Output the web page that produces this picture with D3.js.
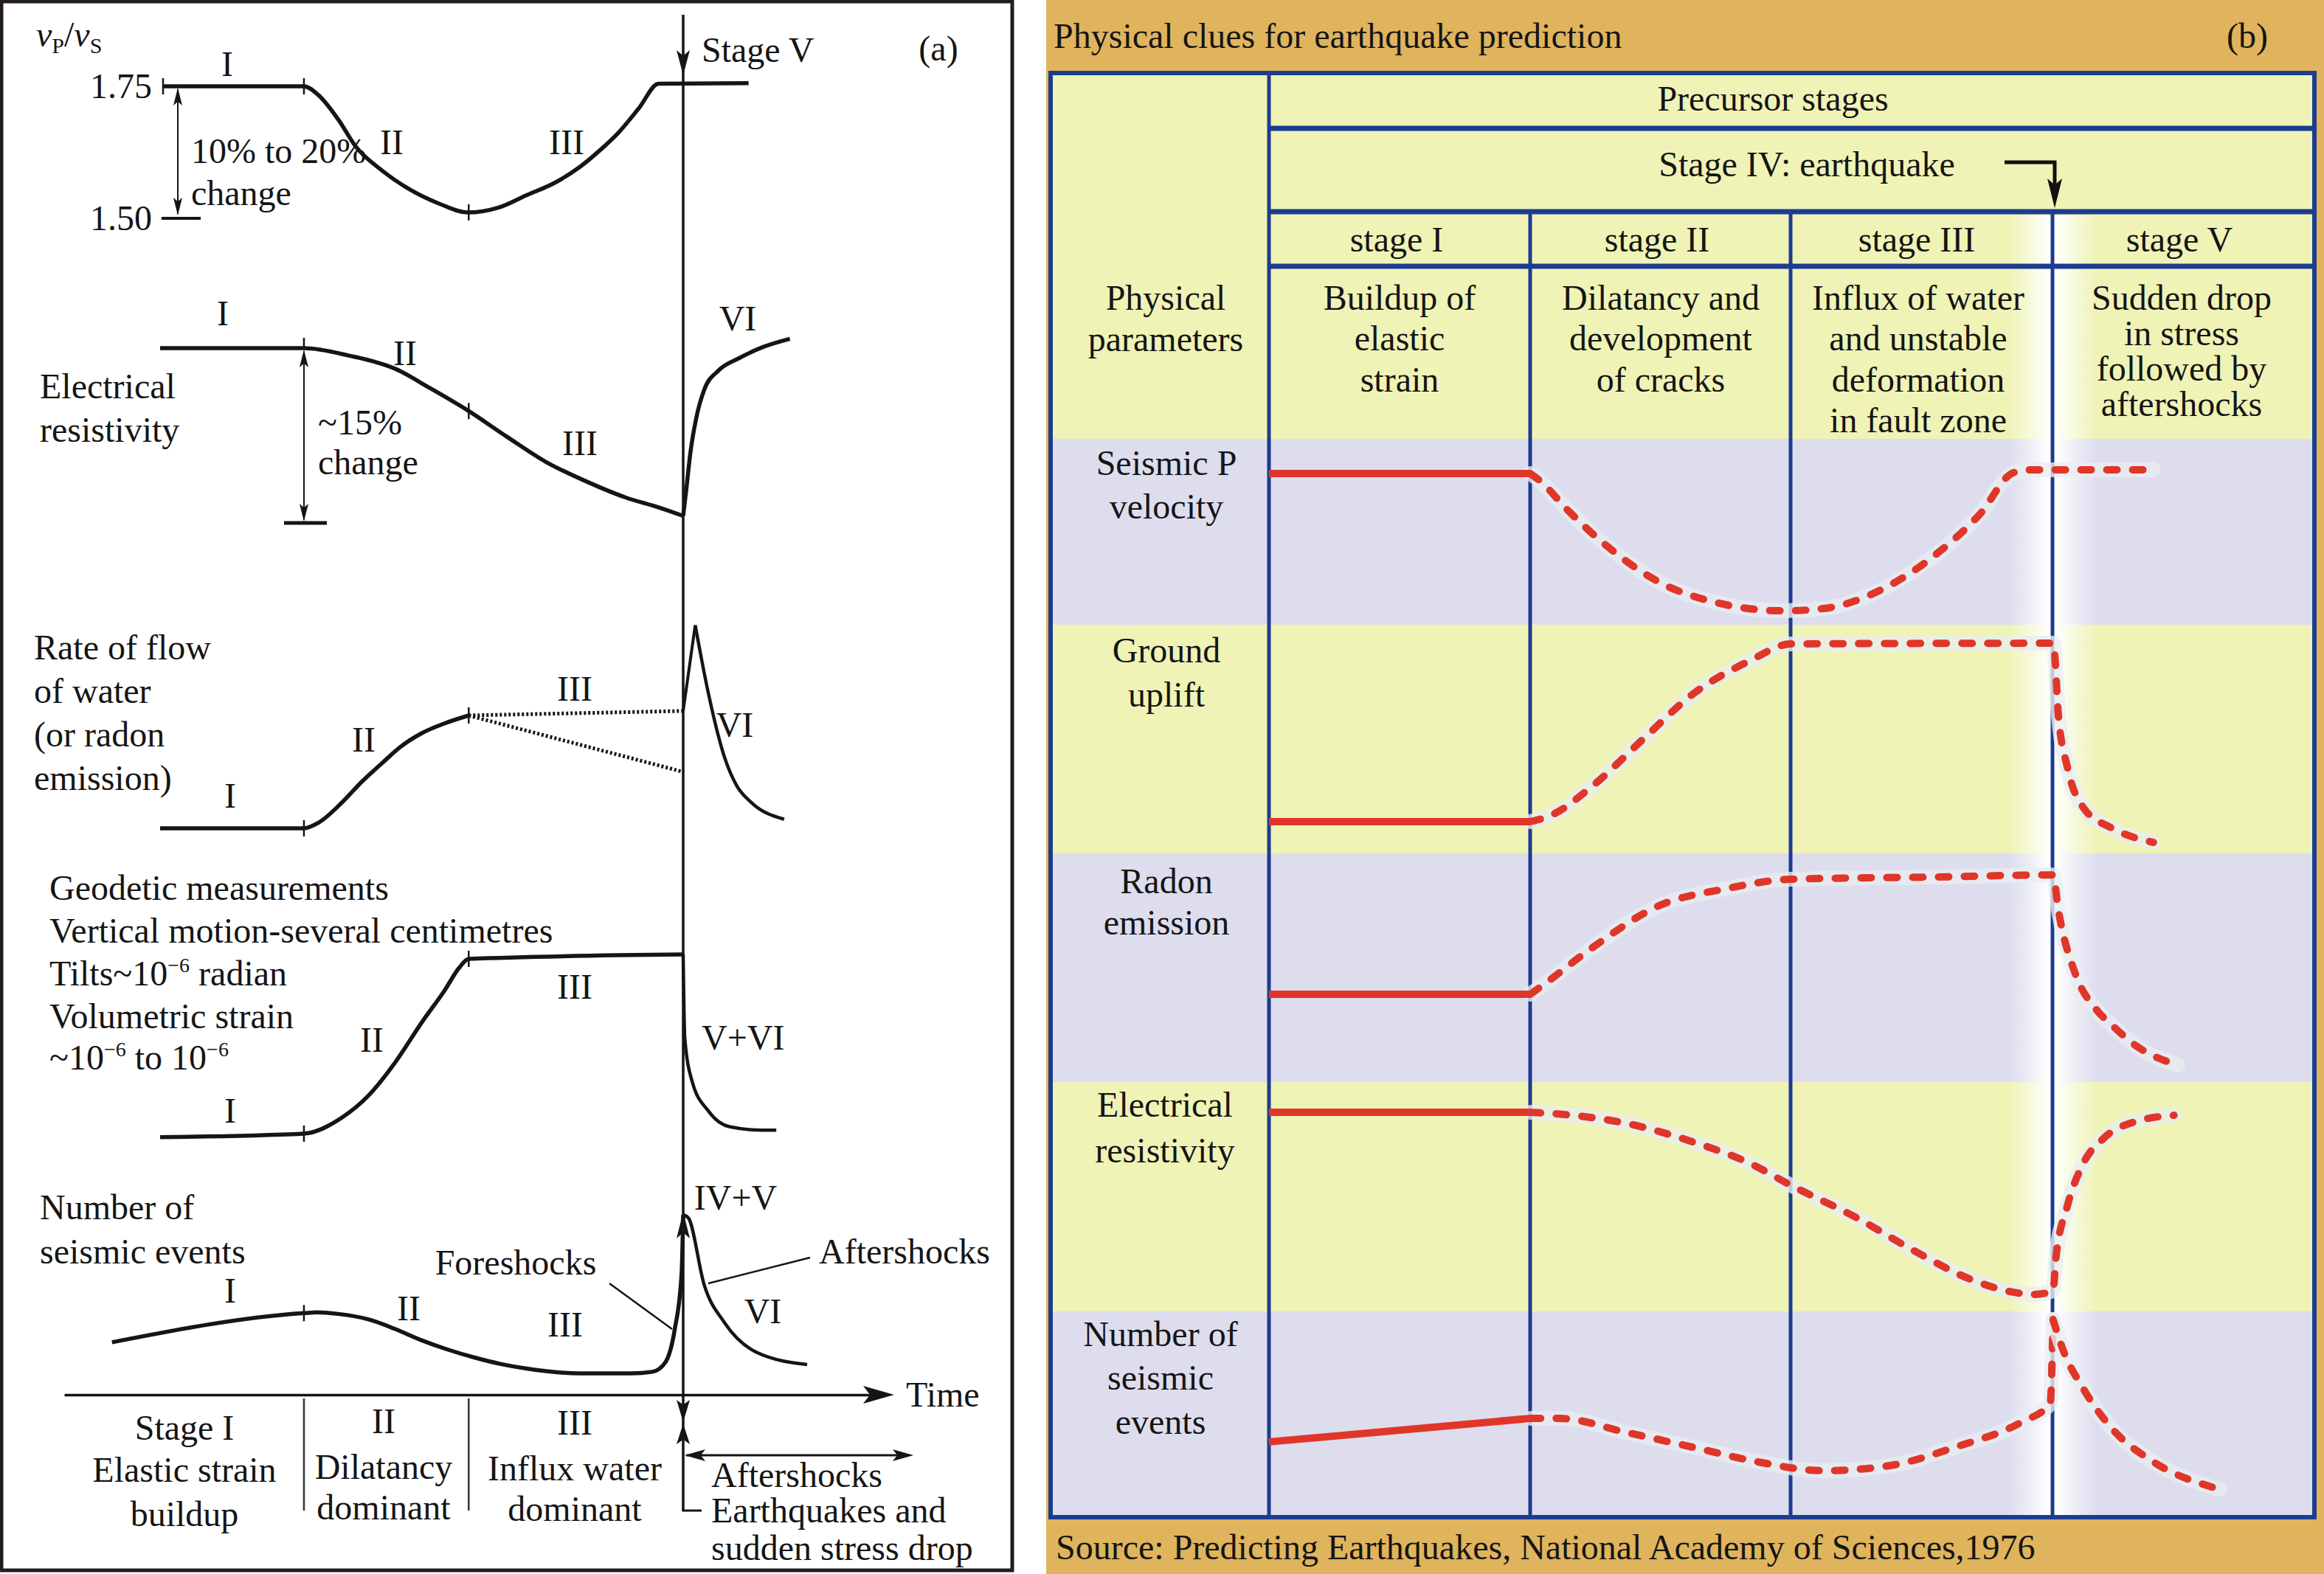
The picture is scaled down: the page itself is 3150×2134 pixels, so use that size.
<!DOCTYPE html>
<html><head><meta charset="utf-8">
<script src="https://cdn.jsdelivr.net/npm/d3@7"></script>
<style>
html,body{margin:0;padding:0;background:#fff;}
svg{display:block;}
text{font-family:"Liberation Serif","Times New Roman",serif;}
</style></head><body>
<svg id="c" width="3150" height="2134"></svg>
<script>
// ================= DATA =================
// Panel (a): time as % of the precursor period (0 = onset, 100 = earthquake)
const stageCutsA = [27.5, 59];
const vpvsTicks = [1.50, 1.75];
const vpvsA = [[0.6,1.75],[27.5,1.75],[30.3,1.733],[34.0,1.688],[37.4,1.636],[42.5,1.590],[47.5,1.556],[53.3,1.528],[58.8,1.511],[64.6,1.520],[70.1,1.544],[75.4,1.567],[80.2,1.597],[84.1,1.629],[87.7,1.663],[91.5,1.708],[95.3,1.755],[112.5,1.756]];
// electrical resistivity, % change
const resistA = [[0,0],[27.5,0],[36.1,-0.64],[45.0,-1.78],[51.6,-3.43],[58.8,-5.34],[66.3,-7.6],[73.9,-9.8],[81.3,-11.4],[88.9,-12.8],[95.5,-13.7],[100,-14.4]];
const resistAfterA = [[100,-14.4],[100.6,-12.1],[101.4,-8.9],[102.5,-6.0],[104.0,-3.6],[106.8,-1.9],[110.5,-0.9],[115.3,0.1],[120.4,0.8]];
// rate of flow of water (relative)
const waterA = [[0,0],[27.5,0],[30.3,0.05],[34.8,0.23],[38.5,0.41],[42.5,0.58],[45.9,0.72],[49.9,0.84],[54.4,0.93],[59,1.0]];
const waterHighA = [[59,1.0],[100,1.04]];
const waterLowA = [[59,1.0],[100,0.50]];
const waterRiseA = [[100,1.04],[102.3,1.80]];
const waterDecayA = [[102.3,1.80],[104.8,1.20],[107.9,0.63],[110.2,0.38],[113.0,0.23],[119.3,0.08]];
// geodetic (relative)
const geodeticA = [[0,-0.02],[27.5,0],[34.8,0.093],[39.9,0.22],[45.0,0.41],[50.1,0.64],[54.4,0.82],[57.2,0.95],[59,1.0],[100,1.025]];
const geodeticAfterA = [[100,1.025],[100.3,0.55],[101.7,0.30],[104.8,0.13],[108.8,0.04],[115,0.02],[117.8,0.02]];
// number of seismic events (relative)
const seismicA = [[-9.2,0.196],[27.5,0.38],[30,0.385],[34,0.375],[39.9,0.34],[44.9,0.28],[49.9,0.21],[55,0.15],[60.1,0.10],[65,0.06],[70.1,0.03],[80.2,0.0],[90,0.0],[94.1,0.01],[96.6,0.07],[98.4,0.28],[99.7,0.63],[100,1.0]];
const aftershockA = [[100,1.0],[101,0.98],[104,0.56],[107.9,0.32],[114.2,0.13],[123.7,0.056]];

// Panel (b): time in stage units (0..4 = stage I, II, III, V columns); values in % of row height
const stagesB = ["stage I","stage II","stage III","stage V"];
const stageDescB = [["Buildup of","elastic","strain"],["Dilatancy and","development","of cracks"],["Influx of water","and unstable","deformation","in fault zone"],["Sudden drop","in stress","followed by","aftershocks"]];
const paramsB = [["Seismic P","velocity"],["Ground","uplift"],["Radon","emission"],["Electrical","resistivity"],["Number of","seismic","events"]];
const seismicPB = [[0,81.3],[1,81.3],[1.034,77.8],[1.144,61.5],[1.302,41.3],[1.492,23.0],[1.712,11.9],[1.966,7.5],[2.121,8.7],[2.345,19.0],[2.565,39.3],[2.72,59.5],[2.847,81.7],[2.91,83.3],[3.384,83.3]];
const upliftB = [[0,13.9],[1,13.9],[1.082,16.8],[1.24,29.7],[1.429,49.7],[1.619,69.4],[1.839,84.2],[1.997,91.6],[3.0,91.9],[3.006,87.4],[3.02,61.0],[3.054,38.1],[3.116,20.0],[3.226,11.0],[3.384,4.8]];
const radonB = [[0,38.4],[1,38.4],[1.051,42.6],[1.24,59.0],[1.492,77.1],[1.746,84.5],[1.997,88.7],[2.565,89.7],[3.0,90.6],[3.02,75.5],[3.085,47.4],[3.164,31.9],[3.226,24.8],[3.322,15.5],[3.477,7.4]];
const resistB = [[0,86.8],[1,86.8],[1.113,86.0],[1.367,82.0],[1.619,74.0],[1.839,64.6],[1.997,55.0],[2.249,40.8],[2.469,26.4],[2.689,13.8],[2.847,8.4],[2.927,7.4],[3.0,9.0],[3.011,23.3],[3.054,45.7],[3.116,64.6],[3.195,75.6],[3.322,83.0],[3.463,85.5]];
const quakesB = [[0,36.6],[1,48.0],[1.113,48.0],[1.367,41.2],[1.619,34.1],[1.87,26.9],[2.121,22.6],[2.376,25.1],[2.627,34.1],[2.879,46.2],[2.989,55.2],[3.0,96.1]];
const aftershocksB = [[3.0,96.1],[3.037,81.7],[3.116,62.4],[3.226,43.0],[3.384,26.9],[3.636,13.6]];
const seriesB = [seismicPB, upliftB, radonB, resistB, [quakesB, aftershocksB]];

// ================= DRAW =================
const svg = d3.select("#c");
const INK = "#151515";
const FS = 48;

function txt(g, x, y, s, anchor, size, extra) {
  const t = g.append("text").attr("x", x).attr("y", y).attr("dy", "0.33em")
    .attr("text-anchor", anchor || "start").attr("font-size", size || FS).attr("fill", INK).text(s);
  if (extra) extra(t);
  return t;
}
function arrowHead(g, x, y, ang, len, hw, fill) {
  const p = [[0,0],[-len,hw],[-len*0.78,0],[-len,-hw]];
  g.append("path").attr("d", "M" + p.map(q => q.join(",")).join("L") + "Z")
    .attr("transform", `translate(${x},${y}) rotate(${ang})`).attr("fill", fill || INK);
}
function seg(g, x1, y1, x2, y2, w, col) {
  g.append("line").attr("x1", x1).attr("y1", y1).attr("x2", x2).attr("y2", y2)
    .attr("stroke", col || INK).attr("stroke-width", w || 3);
}
function valAt(series, t) {
  for (let i = 0; i < series.length - 1; i++) {
    const a = series[i], b = series[i+1];
    if (t >= a[0] && t <= b[0]) return a[1] + (b[1]-a[1]) * (t-a[0]) / (b[0]-a[0]);
  }
  return series[series.length-1][1];
}

// ---------- Panel (a) ----------
const gA = svg.append("g");
gA.append("rect").attr("x", 2).attr("y", 2).attr("width", 1370).attr("height", 2127)
  .attr("fill", "#fff").attr("stroke", "#221c1c").attr("stroke-width", 5);

const xA = d3.scaleLinear().domain([0, 100]).range([217, 926]);
const yVp = d3.scaleLinear().domain([1.5, 1.75]).range([296, 117]);
const yResA = d3.scaleLinear().domain([-15, 0]).range([709, 472]);
const yWater = d3.scaleLinear().domain([0, 1]).range([1123, 970]);
const yGeo = d3.scaleLinear().domain([0, 1]).range([1537, 1300]);
const ySeis = d3.scaleLinear().domain([0, 1]).range([1862, 1647]);

function curveA(data, ys, opts) {
  opts = opts || {};
  const ln = d3.line().x(d => xA(d[0])).y(d => ys(d[1])).curve(opts.curve || d3.curveMonotoneX);
  const p = gA.append("path").attr("d", ln(data)).attr("fill", "none")
    .attr("stroke", INK).attr("stroke-width", opts.w || 5.5).attr("stroke-linejoin", "round");
  if (opts.dash) p.attr("stroke-dasharray", opts.dash);
  return p;
}
function tickA(series, ys, t, up, down) {
  const x = xA(t), y = ys(valAt(series, t));
  seg(gA, x, y - (up == null ? 11 : up), x, y + (down == null ? 11 : down), 2.5);
}

// earthquake vertical line
const xq = xA(100);
seg(gA, xq, 20, xq, 2048, 3.5);
seg(gA, xq - 1.5, 2048, 951, 2048, 3);
arrowHead(gA, xq, 102, 90, 34, 9);

// vp/vs
curveA(vpvsA, yVp);
stageCutsA.forEach(t => tickA(vpvsA, yVp, t));
seg(gA, 221, yVp(1.75) - 11, 221, yVp(1.75) + 11, 2.5);
seg(gA, 219, yVp(1.5), 272, yVp(1.5), 4);
const axVp = gA.append("g").attr("transform", "translate(206,0)")
  .call(d3.axisLeft(yVp).tickValues(vpvsTicks).tickSize(0).tickPadding(0).tickFormat(d3.format(".2f")));
axVp.select(".domain").remove();
axVp.selectAll("text").attr("font-size", FS).attr("fill", INK).attr("font-family", '"Liberation Serif",serif').attr("dy", "0.33em");
seg(gA, 241, yVp(1.75) + 4, 241, yVp(1.5) - 6, 2);
arrowHead(gA, 241, yVp(1.75) + 2, -90, 24, 6);
arrowHead(gA, 241, yVp(1.5) - 4, 90, 24, 6);
const vl = txt(gA, 49, 47, "", "start", FS);
vl.append("tspan").attr("font-style", "italic").text("v");
vl.append("tspan").attr("font-size", 30).attr("dy", 9).text("P");
vl.append("tspan").attr("dy", -9).text("/");
vl.append("tspan").attr("font-style", "italic").text("v");
vl.append("tspan").attr("font-size", 30).attr("dy", 9).text("S");
txt(gA, 308, 87, "I", "middle");
txt(gA, 531, 193, "II", "middle");
txt(gA, 768, 193, "III", "middle");
txt(gA, 259, 205, "10% to 20%");
txt(gA, 259, 262, "change");
txt(gA, 951, 68, "Stage V");
txt(gA, 1272, 66, "(a)", "middle");

// electrical resistivity
curveA(resistA, yResA);
curveA(resistAfterA, yResA);
tickA(resistA, yResA, stageCutsA[0], 14, 0);
tickA(resistA, yResA, stageCutsA[1]);
const xc1 = xA(stageCutsA[0]);
seg(gA, xc1, yResA(0) + 4, xc1, yResA(-15) - 4, 2);
arrowHead(gA, xc1, yResA(0) + 2, -90, 24, 6);
arrowHead(gA, xc1, yResA(-15) - 2, 90, 24, 6);
seg(gA, xc1 - 27, yResA(-15), xc1 + 31, yResA(-15), 5);
txt(gA, 54, 524, "Electrical");
txt(gA, 54, 583, "resistivity");
txt(gA, 431, 573, "~15%");
txt(gA, 431, 627, "change");
txt(gA, 302, 425, "I", "middle");
txt(gA, 549, 479, "II", "middle");
txt(gA, 786, 601, "III", "middle");
txt(gA, 1000, 432, "VI", "middle");

// rate of flow of water
curveA(waterA, yWater);
curveA(waterHighA, yWater, {curve: d3.curveLinear, w: 5, dash: "3,3"});
curveA(waterLowA, yWater, {curve: d3.curveLinear, w: 5, dash: "3,3"});
curveA(waterRiseA, yWater, {curve: d3.curveLinear, w: 4});
curveA(waterDecayA, yWater, {w: 4.5});
stageCutsA.forEach(t => tickA(waterA, yWater, t));
["Rate of flow", "of water", "(or radon", "emission)"].forEach((s, i) => txt(gA, 46, 878 + i * 59, s));
txt(gA, 779, 934, "III", "middle");
txt(gA, 493, 1003, "II", "middle");
txt(gA, 312, 1079, "I", "middle");
txt(gA, 996, 983, "VI", "middle");

// geodetic
curveA(geodeticA, yGeo);
curveA(geodeticAfterA, yGeo, {w: 4.5});
stageCutsA.forEach(t => tickA(geodeticA, yGeo, t));
txt(gA, 67, 1204, "Geodetic measurements");
txt(gA, 67, 1262, "Vertical motion-several centimetres");
const t1 = txt(gA, 67, 1320, "Tilts~10");
t1.append("tspan").attr("font-size", 28).attr("dy", -18).text("−6");
t1.append("tspan").attr("dy", 18).text(" radian");
txt(gA, 67, 1378, "Volumetric strain");
const t2 = txt(gA, 67, 1434, "~10");
t2.append("tspan").attr("font-size", 28).attr("dy", -18).text("−6");
t2.append("tspan").attr("dy", 18).text(" to 10");
t2.append("tspan").attr("font-size", 28).attr("dy", -18).text("−6");
txt(gA, 779, 1338, "III", "middle");
txt(gA, 504, 1410, "II", "middle");
txt(gA, 312, 1506, "I", "middle");
txt(gA, 951, 1407, "V+VI");

// seismic events
curveA(seismicA, ySeis);
curveA(aftershockA, ySeis, {w: 4.5});
tickA(seismicA, ySeis, stageCutsA[0]);
arrowHead(gA, xq, ySeis(1.0) - 4, -90, 36, 9);
txt(gA, 54, 1637, "Number of");
txt(gA, 54, 1697, "seismic events");
txt(gA, 699, 1712, "Foreshocks", "middle");
txt(gA, 1110, 1697, "Aftershocks");
seg(gA, 826, 1740, 911, 1802, 2.5);
seg(gA, 1098, 1705, 960, 1740, 2.5);
txt(gA, 312, 1750, "I", "middle");
txt(gA, 554, 1774, "II", "middle");
txt(gA, 766, 1796, "III", "middle");
txt(gA, 1034, 1778, "VI", "middle");
txt(gA, 997, 1624, "IV+V", "middle");

// time axis
const axT = gA.append("g").attr("transform", "translate(0,1891)")
  .call(d3.axisBottom(d3.scaleLinear().domain([0, 1]).range([87, 1180])).tickValues([]).tickSizeOuter(0));
axT.select(".domain").attr("stroke", INK).attr("stroke-width", 3.5);
arrowHead(gA, 1212, 1891, 0, 42, 12);
txt(gA, 1228, 1891, "Time");

// stage dividers and bottom annotations
stageCutsA.forEach(t => seg(gA, xA(t), 1896, xA(t), 2048, 2.5, "#333"));
arrowHead(gA, xq, 1928, 90, 30, 9);
arrowHead(gA, xq, 1930, -90, 28, 9);
seg(gA, xq + 4, 1973, 1230, 1973, 3);
arrowHead(gA, xq + 2, 1973, 180, 28, 8);
arrowHead(gA, 1238, 1973, 0, 28, 8);
txt(gA, 250, 1936, "Stage I", "middle");
txt(gA, 250, 1993, "Elastic strain", "middle");
txt(gA, 250, 2053, "buildup", "middle");
txt(gA, 520, 1927, "II", "middle");
txt(gA, 520, 1989, "Dilatancy", "middle");
txt(gA, 520, 2044, "dominant", "middle");
txt(gA, 779, 1929, "III", "middle");
txt(gA, 779, 1991, "Influx water", "middle");
txt(gA, 779, 2046, "dominant", "middle");
txt(gA, 964, 2000, "Aftershocks");
txt(gA, 964, 2048, "Earthquakes and");
txt(gA, 964, 2099, "sudden stress drop");

// ---------- Panel (b) ----------
const gB = svg.append("g");
const ORANGE = "#E0B45C", YEL = "#EFF3B6", LAV = "#DDDDEE", BLUE = "#1C3C90", RED = "#E0362A";
gB.append("rect").attr("x", 1418).attr("y", 0).attr("width", 3150 - 1418).attr("height", 2134).attr("fill", ORANGE);
const tL = 1424, tR = 3137, tT = 99, tB = 2057;
const colX = [1720, 2074, 2427, 2782, 3137];
const rowEdges = [595, 847, 1157, 1467, 1778, 2057];
const xB = d3.scaleLinear().domain([0, 4]).range([colX[0], colX[4]]);

gB.append("rect").attr("x", tL).attr("y", tT).attr("width", tR - tL).attr("height", rowEdges[0] - tT).attr("fill", YEL);
paramsB.forEach((p, i) => {
  gB.append("rect").attr("x", tL).attr("y", rowEdges[i]).attr("width", tR - tL)
    .attr("height", rowEdges[i+1] - rowEdges[i]).attr("fill", i % 2 === 0 ? LAV : YEL);
});
// white glow around the earthquake column line
const defs = svg.append("defs");
const gr = defs.append("linearGradient").attr("id", "glow").attr("x1", "0").attr("x2", "1").attr("y1", "0").attr("y2", "0");
[[0, 0], [0.2, 0.4], [0.42, 0.9], [0.5, 1], [0.58, 0.9], [0.8, 0.4], [1, 0]].forEach(s =>
  gr.append("stop").attr("offset", s[0]).attr("stop-color", "#fff").attr("stop-opacity", s[1]));
gB.append("rect").attr("x", colX[3] - 60).attr("y", 292).attr("width", 120).attr("height", tB - 292).attr("fill", "url(#glow)");

// grid lines
[174, 287, 361].forEach(y => seg(gB, colX[0], y, tR, y, 7, BLUE));
seg(gB, colX[0], tT, colX[0], tB, 5, BLUE);
colX.slice(1, 4).forEach(x => seg(gB, x, 287, x, tB, 5, BLUE));
gB.append("rect").attr("x", tL).attr("y", tT).attr("width", tR - tL).attr("height", tB - tT)
  .attr("fill", "none").attr("stroke", BLUE).attr("stroke-width", 6);

// header texts
txt(gB, 1428, 49, "Physical clues for earthquake prediction");
txt(gB, 3046, 49, "(b)", "middle");
txt(gB, 2403, 134, "Precursor stages", "middle");
txt(gB, 2449, 223, "Stage IV: earthquake", "middle");
gB.append("path").attr("d", `M2717,220H2785V252`).attr("fill", "none").attr("stroke", "#111").attr("stroke-width", 5);
arrowHead(gB, 2785, 282, 90, 40, 10, "#111");
const stageCx = [1893, 2246, 2598, 2954];
stagesB.forEach((s, i) => txt(gB, stageCx[i], 325, s, "middle"));
const descCx = [1897, 2251, 2600, 2957];
stageDescB.forEach((lines, i) => {
  const step = i === 3 ? 48 : 55.5;
  lines.forEach((s, j) => txt(gB, descCx[i], 404 + j * step, s, "middle"));
});
txt(gB, 1580, 404, "Physical", "middle");
txt(gB, 1580, 460, "parameters", "middle");
const labelY = [[628, 687], [882, 942], [1195, 1251], [1498, 1560], [1809, 1868, 1928]];
const labelX = [1581, 1581, 1581, 1579, 1573];
paramsB.forEach((p, i) => p.forEach((s, j) => txt(gB, labelX[i], labelY[i][j], s, "middle")));
txt(gB, 1431, 2098, "Source: Predicting Earthquakes, National Academy of Sciences,1976");

// red curves
function drawB(data, ys) {
  const solid = data.filter(d => d[0] <= 1);
  const dashed = data.filter(d => d[0] >= 1);
  const lnS = d3.line().x(d => xB(d[0])).y(d => ys(d[1])).curve(d3.curveLinear);
  const lnD = d3.line().x(d => xB(d[0])).y(d => ys(d[1])).curve(d3.curveMonotoneX);
  if (dashed.length > 1) {
    gB.append("path").attr("d", lnD(dashed)).attr("fill", "none").attr("stroke", "#e9eef0")
      .attr("stroke-opacity", 0.8).attr("stroke-width", 20).attr("stroke-linecap", "round").attr("stroke-linejoin", "round");
    gB.append("path").attr("d", lnD(dashed)).attr("fill", "none").attr("stroke", RED)
      .attr("stroke-width", 10).attr("stroke-dasharray", "14,21").attr("stroke-linecap", "round");
  }
  if (solid.length > 1) {
    gB.append("path").attr("d", lnS(solid)).attr("fill", "none").attr("stroke", RED).attr("stroke-width", 10);
  }
}
seriesB.forEach((s, i) => {
  const ys = d3.scaleLinear().domain([0, 100]).range([rowEdges[i+1], rowEdges[i]]);
  if (Array.isArray(s[0][0])) s.forEach(part => drawB(part, ys));
  else drawB(s, ys);
});
</script>
</body></html>
